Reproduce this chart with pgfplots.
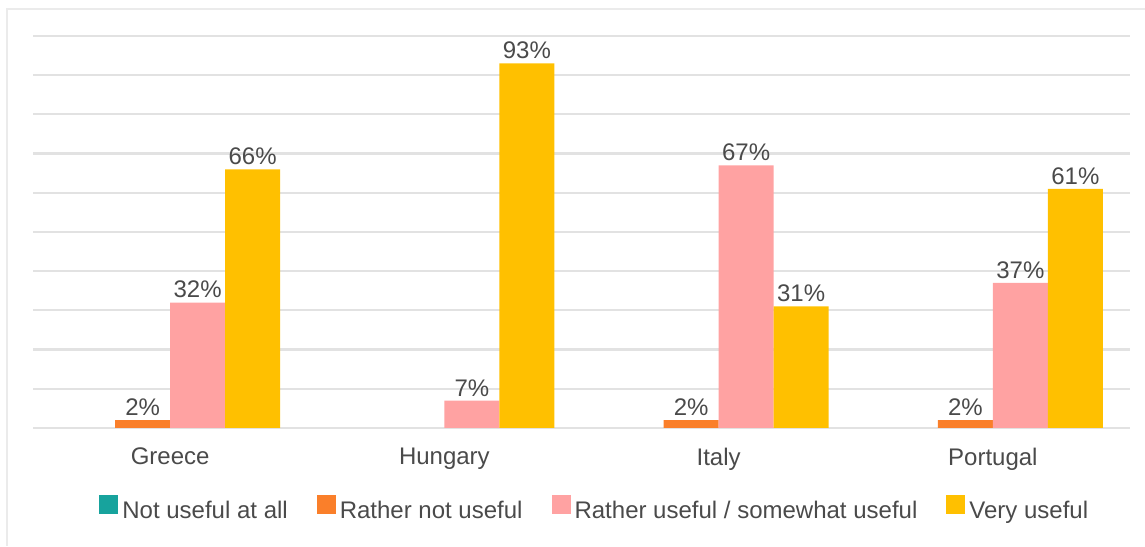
\documentclass[border=0pt]{standalone}
\usepackage{pgfplots}
\pgfplotsset{compat=1.18}
\usepackage{fontspec}
\setmainfont{Liberation Sans}
\definecolor{cteal}{HTML}{17A39D}
\definecolor{corange}{HTML}{FA7F2A}
\definecolor{cpink}{HTML}{FFA2A2}
\definecolor{cyellow}{HTML}{FFC000}
\definecolor{ctext}{HTML}{4A4A4A}
\definecolor{cgrid}{HTML}{E2E2E2}
\definecolor{cframe}{HTML}{EBEBEB}
\begin{document}
\begin{tikzpicture}[x=1pt,y=1pt]
\path[use as bounding box] (0,0) rectangle (572.5,273);
\draw[cframe, line width=1pt] (3.5,0) -- (3.5,268.5) -- (572.5,268.5);
\begin{axis}[
  at={(16.5pt,59pt)}, anchor=south west,
  scale only axis, width=548.5pt, height=196pt,
  xmin=-0.5, xmax=3.5, ymin=0, ymax=100,
  ybar=0pt, bar width=27.5pt,
  ytick={0,10,...,100}, yticklabels={},
  ymajorgrids, grid style={cgrid, line width=1.1pt},
  xtick={0,1,2,3}, xticklabels={Greece,Hungary,Italy,Portugal},
  axis line style={draw=none}, major tick length=0pt,
  tick label style={font=\fontsize{12}{14}\selectfont, text=ctext},
  xticklabel style={yshift=-6.5pt},
  point meta=explicit symbolic,
  nodes near coords={\pgfplotspointmeta},
  nodes near coords style={font=\fontsize{12}{14}\selectfont, text=ctext, anchor=south, inner sep=2pt},
  legend columns=4,
  legend style={at={(0.513,-0.2066)}, anchor=center, draw=none, fill=none,
    font=\fontsize{12}{14}\selectfont, text=ctext,
    nodes={inner xsep=2pt, inner ysep=1pt},
    /tikz/every even column/.append style={column sep=12.5pt}},
  legend image code/.code={\fill[#1] (0pt,-1.5pt) rectangle (9.5pt,8pt);},
]
\addplot[fill=none, draw=none,
  legend image code/.code={\fill[cteal] (0pt,-1.5pt) rectangle (9.5pt,8pt);}]
  coordinates {(0,0) [] (1,0) [] (2,0) [] (3,0) []};
\addplot[fill=corange, draw=none] coordinates {(0,2) [2\%] (2,2) [2\%] (3,2) [2\%]};
\addplot[fill=cpink, draw=none] coordinates {(0,32) [32\%] (1,7) [7\%] (2,67) [67\%] (3,37) [37\%]};
\addplot[fill=cyellow, draw=none] coordinates {(0,66) [66\%] (1,93) [93\%] (2,31) [31\%] (3,61) [61\%]};
\legend{Not useful at all, Rather not useful, Rather useful / somewhat useful, Very useful}
\end{axis}
\end{tikzpicture}
\end{document}
